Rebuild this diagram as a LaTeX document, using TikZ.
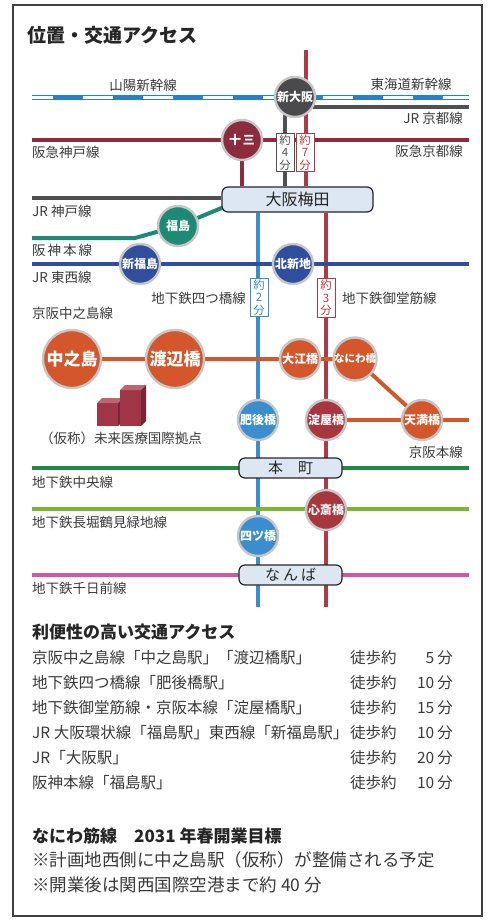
\documentclass[tikz,border=0pt]{standalone}
\usepackage{fontspec}
\setmainfont{Noto Sans CJK JP}
\definecolor{hankyu}{HTML}{8C2B3E}
\definecolor{jrgray}{HTML}{505052}
\definecolor{shinkan}{HTML}{2A80C6}
\definecolor{hanshin}{HTML}{1F8A74}
\definecolor{tozai}{HTML}{2F4E9E}
\definecolor{yotsu}{HTML}{3A8DCF}
\definecolor{mido}{HTML}{B03A44}
\definecolor{midostn}{HTML}{A8363F}
\definecolor{keihan}{HTML}{D4572C}
\definecolor{chuo}{HTML}{1E8A3E}
\definecolor{nagahori}{HTML}{7BB82F}
\definecolor{sennichi}{HTML}{D2579B}
\definecolor{hubfill}{HTML}{DCE7F2}
\definecolor{txt}{HTML}{3A3A3A}
\definecolor{darkstn}{HTML}{4A4A4C}
\definecolor{bldgfront}{HTML}{9E3646}
\definecolor{bldgtop}{HTML}{BD6570}
\definecolor{bldgside}{HTML}{7A2533}
\pgfdeclarelayer{paper}
\pgfdeclarelayer{rails}
\pgfsetlayers{paper,rails,main}
\begin{document}
\begin{tikzpicture}[x=1pt,y=-1pt,
  rail/.style={line width=4pt},
  stn/.style={circle, draw=black!22, line width=2.4pt, minimum size=40pt, inner sep=0pt,
    text=white, font=\fontsize{12}{13}\selectfont\bfseries},
  bigstn/.style={stn, minimum size=58pt, font=\fontsize{17}{18}\selectfont\bfseries},
  hub/.style={draw=black!85, line width=1.2pt, rounded corners=6pt, fill=hubfill,
    inner sep=0pt, text=black!85},
  lbl/.style={text=txt, font=\fontsize{13.5}{14}\selectfont, inner sep=0pt},
  tbox/.style={draw, fill=white, line width=0.8pt, inner sep=1.5pt, minimum width=18pt,
    align=center, font=\fontsize{11.5}{12.5}\selectfont},
  body/.style={text=txt, font=\fontsize{15.5}{16}\selectfont, inner sep=0pt, anchor=west},
  bodyr/.style={body, anchor=east},
  note/.style={body, font=\fontsize{17.5}{18}\selectfont},
]
\useasboundingbox (0,0) rectangle (493,922);
\begin{pgfonlayer}{paper}
\fill[white] (0,0) rectangle (493,922);
\draw[black!75, line width=1.2pt] (13,5) rectangle (482,916);
\end{pgfonlayer}

\node[anchor=west, inner sep=0pt, text=black!85, font=\fontsize{19}{19}\selectfont\bfseries]
  (title) at (27,35) {位置・交通アクセス};

% --- stations ---
\node[stn, fill=darkstn] (shinosaka) at (295,97) {新大阪};
\node[stn, fill=hankyu] (juso) at (242,140) {十\kern2pt 三};
\node[stn, fill=hanshin] (fukushima) at (178,226) {福島};
\node[stn, fill=tozai] (shinfukushima) at (140,264) {新福島};
\node[stn, fill=tozai] (kitashinchi) at (293,264) {北新地};
\node[bigstn, fill=keihan] (nakanoshima) at (72,359) {中之島};
\node[bigstn, fill=keihan] (watanabebashi) at (175,359) {渡辺橋};
\node[stn, fill=keihan] (oebashi) at (300,359) {大江橋};
\node[stn, fill=keihan, font=\fontsize{10.5}{11}\selectfont\bfseries] (naniwabashi) at (355,359) {なにわ橋};
\node[stn, fill=keihan] (tenmabashi) at (422,420) {天満橋};
\node[stn, fill=yotsu] (higobashi) at (258,420) {肥後橋};
\node[stn, fill=midostn] (yodoyabashi) at (326,420) {淀屋橋};
\node[stn, fill=midostn] (shinsaibashi) at (326,510) {心斎橋};
\node[stn, fill=yotsu] (yotsubashi) at (258,536) {四ツ橋};

% --- interchange hubs ---
\node[hub, minimum width=151pt, minimum height=25pt, font=\fontsize{16}{16}\selectfont]
  (umeda) at (297.5,199.5) {大阪梅田};
\node[hub, minimum width=103pt, minimum height=20pt, font=\fontsize{15}{15}\selectfont]
  (honmachi) at (290.5,468) {本　町};
\node[hub, minimum width=103pt, minimum height=20pt, font=\fontsize{15}{15}\selectfont]
  (namba) at (290.5,575) {な\kern3pt ん\kern3pt ば};

% --- free ends of the lines ---
\coordinate (sk-w) at (32,97);   \coordinate (sk-e) at (469,97);
\coordinate (kyoto-e) at (469,107);
\coordinate (jr-top) at (285,97);
\coordinate (mido-top) at (306,50);
\coordinate (mido-bot) at (326,607);
\coordinate (yotsu-bot) at (258,607);
\coordinate (hk-w) at (32,140);  \coordinate (hk-e) at (469,140);
\coordinate (kobe-w) at (32,198);
\coordinate (hs-w) at (32,238);  \coordinate (hs-bend) at (135,238);
\coordinate (hs-e) at (224,207);
\coordinate (tz-w) at (32,264);  \coordinate (tz-e) at (469,264);
\coordinate (kh-e) at (469,420);
\coordinate (chuo-w) at (32,468); \coordinate (chuo-e) at (469,468);
\coordinate (ng-w) at (32,509);   \coordinate (ng-e) at (469,509);
\coordinate (sn-w) at (32,575);   \coordinate (sn-e) at (469,575);

% --- rails, kept beneath stations and hubs ---
\begin{pgfonlayer}{rails}
\draw[shinkan, line width=5pt] (sk-w) -- (sk-e);
\draw[white, line width=3pt, dash pattern=on 30pt off 30pt, dash phase=9pt] (sk-w) -- (sk-e);
\draw[rail, jrgray] (shinosaka.center) |- (kyoto-e);
\draw[rail, jrgray] (jr-top) -- (jr-top |- umeda.north);
\draw[rail, mido] (mido-top) -- (mido-top |- umeda.north);
\draw[rail, mido] (umeda.south -| mido-bot) -- (mido-bot);
\draw[rail, yotsu] (umeda.south -| yotsu-bot) -- (yotsu-bot);
\draw[rail, hankyu] (hk-w) -- (hk-e);
\draw[rail, hankyu] (juso.center) -- (juso.center |- umeda.north);
\draw[rail, jrgray] (kobe-w) -- (kobe-w -| umeda.west);
\draw[rail, hanshin] (hs-w) -- (hs-bend) -- (fukushima.center) -- (hs-e);
\draw[rail, tozai] (tz-w) -- (tz-e);
\draw[rail, keihan] (nakanoshima.center) -- (naniwabashi.center) -- (tenmabashi.center);
\draw[rail, keihan] (yodoyabashi.center) -- (kh-e);
\draw[rail, chuo] (chuo-w) -- (chuo-e);
\draw[rail, nagahori] (ng-w) -- (ng-e);
\draw[rail, sennichi] (sn-w) -- (sn-e);
\end{pgfonlayer}

% --- walking-time tags ---
\node[tbox, draw=jrgray, text=jrgray] (t4) at (285,152.5) {約\\4\\分};
\node[tbox, draw=mido, text=mido] (t7) at (305,152.5) {約\\7\\分};
\node[tbox, draw=yotsu, text=yotsu] (t2) at (259,297.5) {約\\2\\分};
\node[tbox, draw=mido, text=mido] (t3) at (326,298) {約\\3\\分};

% --- line names ---
\node[lbl] (l-sanyo) at (143,85) {山陽新幹線};
\node[lbl] (l-tokaido) at (411,84) {東海道新幹線};
\node[lbl, anchor=east] (l-jrkyoto) at (463,118) {JR 京都線};
\node[lbl, anchor=west] (l-hkobe) at (32,152) {阪急神戸線};
\node[lbl, anchor=east] (l-hkyoto) at (463,151) {阪急京都線};
\node[lbl, anchor=west] (l-jrkobe) at (32,211) {JR 神戸線};
\node[lbl, anchor=west] (l-hanshin) at (32,250) {阪\kern2pt 神\kern2pt 本\kern2pt 線};
\node[lbl, anchor=west] (l-tozai) at (32,277) {JR 東西線};
\node[lbl, anchor=east] (l-yotsu) at (246,298) {地下鉄四つ橋線};
\node[lbl, anchor=west] (l-mido) at (342,298) {地下鉄御堂筋線};
\node[lbl, anchor=west] (l-nakanoshima) at (32,313) {京阪中之島線};
\node[lbl, anchor=east] (l-keihan) at (463,452) {京阪本線};
\node[lbl, anchor=west] (l-chuo) at (32,482) {地下鉄中央線};
\node[lbl, anchor=west] (l-nagahori) at (32,522) {地下鉄長堀鶴見緑地線};
\node[lbl, anchor=west] (l-sennichi) at (32,588) {地下鉄千日前線};

% --- medical hub building ---
\fill[bldgfront] (97,403) rectangle (118,426);
\fill[bldgtop] (97,403) -- (102,398) -- (123,398) -- (118,403) -- cycle;
\fill[bldgside] (118,403) -- (123,398) -- (123,421) -- (118,426) -- cycle;
\fill[bldgfront] (120,390) rectangle (141,426);
\fill[bldgtop] (120,390) -- (125,385) -- (146,385) -- (141,390) -- cycle;
\fill[bldgside] (141,390) -- (146,385) -- (146,421) -- (141,426) -- cycle;
\node[lbl] (l-medical) at (121,438) {（仮称）未来医療国際拠点};

% --- access summary ---
\node[body, font=\fontsize{17}{17}\selectfont\bfseries, text=black!85] (acc-head) at (32,632) {利便性の高い交通アクセス};
\node[body] (r1) at (32,658) {京阪中之島線「中之島駅」「渡辺橋駅」};
\node[body] (r2) at (32,683) {地下鉄四つ橋線「肥後橋駅」};
\node[body] (r3) at (32,708) {地下鉄御堂筋線・京阪本線「淀屋橋駅」};
\node[body] (r4) at (32,733) {JR 大阪環状線「福島駅」東西線「新福島駅」};
\node[body] (r5) at (32,758) {JR「大阪駅」};
\node[body] (r6) at (32,783) {阪神本線「福島駅」};
\foreach \y/\m in {658/5, 683/10, 708/15, 733/10, 758/20, 783/10} {
  \node[body] at (350,\y) {徒歩約};
  \node[bodyr] at (453,\y) {\m\kern3pt 分};
}
\node[body, font=\fontsize{17}{17}\selectfont\bfseries, text=black!85] (naniwa-head) at (32,836) {なにわ筋線　2031 年春開業目標};
\node[note] (n1) at (32,860) {※計画地西側に中之島駅（仮称）が整備される予定};
\node[note] (n2) at (32,885) {※開業後は関西国際空港まで約 40 分};
\end{tikzpicture}
\end{document}
